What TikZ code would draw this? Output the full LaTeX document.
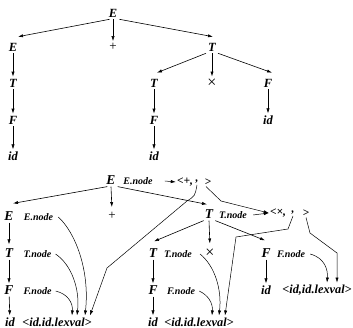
\documentclass[tikz,border=0pt]{standalone}
\usepackage{fontspec}
\setmainfont{Liberation Serif}
\usetikzlibrary{arrows.meta}
\begin{document}
\begin{tikzpicture}[x=1pt,y=-1pt,
  sym/.style={inner sep=2pt, font=\fontsize{12.5}{14}\selectfont\bfseries\itshape},
  bsym/.style={inner sep=2pt, font=\fontsize{13.5}{15}\selectfont\bfseries\itshape},
  op/.style={inner sep=2pt, font=\fontsize{13}{15}\selectfont},
  times/.style={inner sep=2pt, font=\fontsize{16}{18}\selectfont},
  lab/.style={inner sep=1pt, font=\fontsize{10}{12}\selectfont\bfseries\itshape},
  leaf/.style={inner sep=2pt, font=\fontsize{12.3}{14}\selectfont\bfseries\itshape},
  fld/.style={inner sep=1pt, font=\fontsize{11.5}{13}\selectfont\bfseries\itshape},
  edge/.style={-{Latex[length=5pt,width=3.2pt]}, line width=0.6pt},
  ptr/.style={-{Latex[length=5pt,width=3.2pt]}, line width=0.5pt},
]
\useasboundingbox (0,0) rectangle (353,328);

% ---- parse tree ----
\node[sym] (tE)  at (113,13) {E};
\node[sym] (tE1) at (13,47) {E};
\node[op]  (tP)  at (113,47) {+};
\node[sym] (tT)  at (212,47) {T};
\node[sym] (tT1) at (13,83) {T};
\node[sym] (tT2) at (154,83) {T};
\node[times] (tX) at (212,83) {×};
\node[sym] (tF)  at (268,83) {F};
\node[sym] (tF1) at (13,120) {F};
\node[sym] (tF2) at (154,120) {F};
\node[sym] (tI3) at (268,120) {id};
\node[sym] (tI1) at (13,156) {id};
\node[sym] (tI2) at (154,156) {id};

\draw[edge] ([xshift=3pt]tE.south west) -- ([xshift=5pt,yshift=4pt]tE1.north);
\draw[edge] (tE.south) -- (tP.north);
\draw[edge] (tE.south east) -- ([xshift=1pt,yshift=4pt]tT.north);
\draw[edge] (tE1) -- (tT1);
\draw[edge] (tT1) -- (tF1);
\draw[edge] (tF1) -- (tI1);
\draw[edge] (tT.south west) -- ([xshift=3pt,yshift=4pt]tT2.north);
\draw[edge] (tT.south) -- (tX.north);
\draw[edge] (tT.south east) -- ([xshift=4pt,yshift=4pt]tF.north);
\draw[edge] (tT2) -- (tF2);
\draw[edge] (tF2) -- (tI2);
\draw[edge] (tF) -- (tI3);

% ---- annotated tree with syntax-tree records ----
\node[bsym] (bE)  at (111,180) {E};
\node[lab] (bEn) at (138,181) {E.node};
\node[fld] (r1a) at (185,182) {<+,};
\node[fld] (r1b) at (197,182) {,};
\node[fld] (r1c) at (208,182) {>};

\node[bsym] (bE1)  at (9,216) {E};
\node[lab] (bE1n) at (38.5,217) {E.node};
\node[op]  (bP)   at (112,216) {+};
\node[bsym] (bT)   at (209,214) {T};
\node[lab] (bTn)  at (233,215) {T.node};
\node[fld] (r2a)  at (278,213) {<×,};
\node[fld] (r2b)  at (293,213) {,};
\node[fld] (r2c)  at (306,213) {>};

\node[bsym] (bT1)  at (9,253) {T};
\node[lab] (bT1n) at (37.5,254) {T.node};
\node[bsym] (bT2)  at (153,253) {T};
\node[lab] (bT2n) at (178,254) {T.node};
\node[times] (bX)  at (210,253) {×};
\node[bsym] (bF)   at (266,253) {F};
\node[lab] (bFn)  at (291,254) {F.node};

\node[bsym] (bF1)  at (9,290) {F};
\node[lab] (bF1n) at (37.5,291) {F.node};
\node[bsym] (bF2)  at (153,290) {F};
\node[lab] (bF2n) at (181,291) {F.node};
\node[sym] (bI3)  at (266,290) {id};
\node[leaf] (lx3) at (317,290) {<id,id.lexval>};

\node[sym] (bI1)  at (10,322) {id};
\node[leaf] (lx1) at (57,322) {<id.id.lexval>};
\node[sym] (bI2)  at (153,322) {id};
\node[leaf] (lx2) at (199,322) {<id.id.lexval>};

% tree edges
\draw[edge] ([xshift=3pt]bE.south west) -- ([xshift=4pt,yshift=6pt]bE1.north);
\draw[edge, shorten >=3pt] (bE.south) -- (bP.north);
\draw[edge] (bE.south east) -- ([xshift=-2pt,yshift=3pt]bT.north);
\draw[edge, shorten >=2pt] (bE1) -- (bT1);
\draw[edge] (bT1) -- (bF1);
\draw[edge] (bF1) -- (bI1);
\draw[edge] ([xshift=1pt]bT.south west) -- ([xshift=1pt,yshift=5pt]bT2.north);
\draw[edge, shorten >=3pt] (bT.south) -- (bX.north);
\draw[edge] (bT.south east) -- ([xshift=-1pt,yshift=6pt]bF.north);
\draw[edge] (bT2) -- (bF2);
\draw[edge] (bF2) -- (bI2);
\draw[edge] (bF) -- (bI3);

% node attributes pointing to records
\draw[ptr] ([xshift=11pt]bEn.east) -- (r1a.west);
\draw[ptr] ([xshift=5pt]bTn.east) -- (r2a.west);

% pointer fields of the records
\draw[ptr] (r1b.south) .. controls (195,196) .. (187,201) -- (107,268) -- ([xshift=33pt]lx1.north);
\draw[ptr] ([xshift=-2pt]r1c.south) -- (221,201) -- (r2a.west);
\draw[ptr] (r2b.south) -- (288,229) -- (236,237) -- ([xshift=26pt]lx2.north);
\draw[ptr] (r2c.south) -- (310,233) -- (337,253) -- ([xshift=20pt]lx3.north);

% attribute values referring to leaf records
\draw[ptr] ([xshift=4pt]bE1n.east) .. controls (75,232) and (90,270) .. ([xshift=28pt]lx1.north);
\draw[ptr] ([xshift=3pt]bT1n.east) .. controls (72,265) and (80,290) .. ([xshift=20pt]lx1.north);
\draw[ptr] ([xshift=3pt]bF1n.east) .. controls (68,294) and (73,303) .. ([xshift=15pt]lx1.north);
\draw[ptr] ([xshift=7pt]bT2n.east) .. controls (215,266) and (222,290) .. ([xshift=20pt]lx2.north);
\draw[ptr] ([xshift=3pt]bF2n.east) .. controls (208,295) and (213,303) .. ([xshift=13pt]lx2.north);
\draw[ptr] ([xshift=4pt]bFn.east) .. controls (325,258) and (328,270) .. ([xshift=10pt]lx3.north);
\end{tikzpicture}
\end{document}
